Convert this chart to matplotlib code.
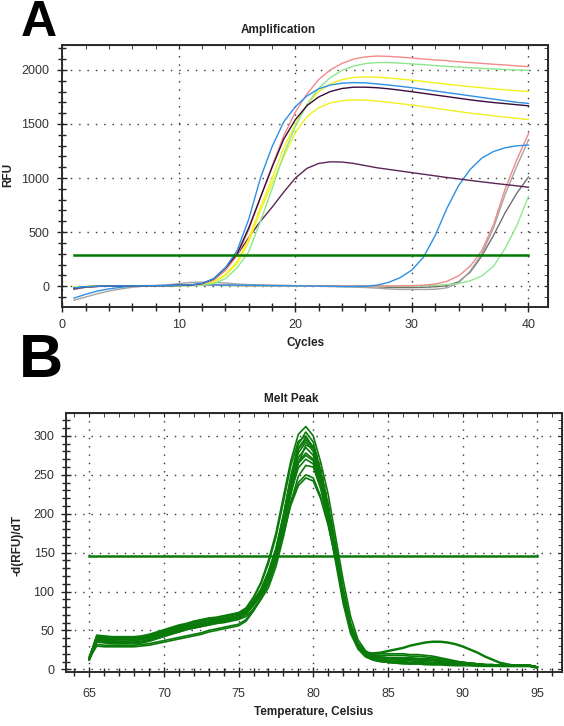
import matplotlib
matplotlib.use("Agg")
import matplotlib.pyplot as plt
from matplotlib.ticker import MultipleLocator

plt.rcParams['font.family'] = ['Liberation Sans', 'DejaVu Sans']

# ---------------- Panel A data (RFU per cycle) ----------------
cycles = list(range(1, 41))
amp_threshold = 285

amp_blue1 = [-15, -5, 0, 2, 3, 3, 4, 5, 5, 8, 12, 25, 70, 170, 330, 620, 1000, 1290, 1520, 1660,
             1760, 1825, 1860, 1877, 1882, 1880, 1870, 1860, 1848, 1835, 1820, 1805, 1790, 1775, 1760,
             1745, 1730, 1715, 1700, 1690]
amp_pink1 = [-20, -8, -2, 0, 2, 3, 3, 4, 5, 7, 10, 20, 60, 150, 285, 520, 820, 1110, 1390, 1610,
             1780, 1910, 2000, 2060, 2100, 2120, 2128, 2125, 2118, 2110, 2100, 2092, 2085, 2075, 2068,
             2060, 2052, 2045, 2037, 2030]
amp_purple1 = [-18, -6, -1, 1, 2, 3, 3, 4, 5, 7, 10, 25, 70, 170, 300, 540, 820, 1100, 1360, 1540,
               1670, 1750, 1800, 1828, 1840, 1840, 1835, 1825, 1812, 1798, 1783, 1768, 1753, 1738, 1723,
               1710, 1698, 1688, 1678, 1668]
amp_yellow1 = [-10, -3, 0, 1, 2, 2, 3, 3, 4, 5, 8, 15, 40, 110, 230, 440, 730, 1000, 1280, 1500,
               1680, 1800, 1870, 1910, 1930, 1935, 1932, 1925, 1915, 1905, 1893, 1880, 1868, 1856, 1845,
               1835, 1825, 1815, 1807, 1800]
amp_yellow2 = [-10, -3, 0, 1, 2, 2, 3, 3, 4, 5, 7, 12, 35, 100, 210, 410, 700, 950, 1200, 1420,
               1570, 1650, 1695, 1715, 1722, 1720, 1712, 1700, 1688, 1675, 1660, 1645, 1630, 1615, 1600,
               1588, 1575, 1563, 1552, 1540]
amp_green1 = [-12, -4, 0, 1, 2, 2, 3, 3, 4, 5, 6, 10, 25, 70, 170, 320, 600, 900, 1220, 1480,
              1680, 1830, 1930, 1995, 2035, 2058, 2068, 2068, 2062, 2055, 2048, 2040, 2033, 2026, 2020,
              2014, 2008, 2003, 1999, 1995]
amp_purple2 = [-20, -8, -2, 0, 2, 3, 3, 4, 5, 7, 10, 20, 60, 150, 290, 450, 600, 730, 870, 1000,
               1090, 1135, 1150, 1148, 1135, 1115, 1095, 1080, 1065, 1050, 1035, 1020, 1005, 992, 978,
               965, 952, 940, 928, 915]
amp_blue2 = [-110, -75, -45, -25, -10, 0, 5, 5, 8, 12, 15, 15, 12, 10, 10, 8, 8, 5, 5, 3,
             3, 0, 0, -3, -3, 0, 10, 35, 80, 150, 270, 470, 720, 930, 1080,
             1185, 1245, 1280, 1298, 1305]
amp_pink2 = [-20, -5, 0, 2, 3, 3, 4, 4, 5, 6, 8, 10, 10, 8, 6, 5, 5, 5, 4, 4,
             3, 3, 2, 2, 2, 2, 2, 3, 4, 5, 10, 20, 45, 95, 185,
             330, 570, 900, 1170, 1410]
amp_gray1 = [-130, -100, -70, -45, -25, -10, 0, 5, 10, 25, 35, 38, 35, 30, 20, 15, 12, 10, 8, 5,
             3, 0, -3, -5, -8, -12, -18, -25, -30, -30, -30, -28, -15, 30, 140,
             300, 540, 850, 1110, 1350]
amp_gray2 = [-30, -10, 0, 2, 3, 4, 5, 6, 8, 10, 15, 15, 12, 10, 8, 6, 5, 5, 5, 5,
             5, 4, 3, 2, 0, -2, -5, -10, -12, -12, -10, -5, 5, 40, 130,
             280, 470, 680, 860, 1010]
amp_green2 = [-20, -6, 0, 1, 2, 2, 3, 3, 4, 5, 6, 8, 8, 6, 5, 4, 3, 3, 2, 2,
              2, 1, 1, 0, 0, 0, 0, 0, 0, 0, 3, 8, 15, 25, 50,
              95, 185, 350, 560, 830]

amp_series = [
    (amp_gray2, '#707070'),
    (amp_gray1, '#A3A3A3'),
    (amp_green2, '#8FE88F'),
    (amp_pink2, '#F08A8A'),
    (amp_blue2, '#2E8FE6'),
    (amp_purple2, '#5A2455'),
    (amp_yellow2, '#F0F020'),
    (amp_yellow1, '#F2F21A'),
    (amp_green1, '#8CE68C'),
    (amp_pink1, '#F28B8B'),
    (amp_purple1, '#3A0A3A'),
    (amp_blue1, '#2E8FE6'),
]

# ---------------- Panel B data (-d(RFU)/dT) ----------------
temps = [65 + 0.5 * i for i in range(61)]
melt_threshold = 146

melt_m1 = [14, 44, 43, 42, 42, 42, 42, 43, 45, 48, 51, 54, 57, 59, 62, 64, 66, 67, 69, 71,
           73, 79, 93, 112, 140, 175, 222, 268, 302, 312, 300, 266, 225, 170, 115, 68, 38, 24, 18, 16,
           15, 15, 15, 15, 14, 14, 13, 12, 11, 10, 9, 8, 7, 6, 6, 5, 5, 5, 5, 5, 3]
melt_m2 = [16, 42, 41, 41, 40, 40, 40, 41, 43, 46, 49, 52, 55, 57, 60, 62, 64, 65, 67, 69,
           71, 76, 88, 103, 125, 155, 198, 249, 289, 305, 292, 255, 206, 152, 96, 53, 30, 20, 16, 15,
           14, 14, 14, 14, 13, 13, 12, 11, 10, 9, 8, 7, 6, 6, 5, 5, 5, 5, 5, 5, 3]
melt_m3 = [13, 41, 40, 39, 39, 39, 39, 40, 42, 45, 48, 51, 54, 56, 58, 60, 62, 64, 65, 67,
           69, 75, 87, 101, 123, 152, 195, 245, 284, 298, 286, 250, 203, 150, 96, 53, 30, 20, 16, 15,
           14, 14, 14, 13, 13, 12, 12, 11, 10, 9, 8, 7, 6, 6, 5, 5, 5, 5, 5, 5, 3]
melt_m4 = [15, 40, 38, 38, 38, 38, 38, 39, 41, 43, 46, 49, 52, 54, 57, 59, 61, 62, 64, 66,
           68, 74, 86, 100, 122, 150, 192, 240, 278, 292, 280, 245, 200, 148, 95, 52, 30, 22, 20, 20,
           20, 20, 20, 19, 19, 18, 17, 15, 13, 11, 9, 8, 7, 6, 6, 5, 5, 5, 5, 5, 3]
melt_m5 = [12, 39, 37, 37, 36, 36, 37, 38, 40, 42, 45, 48, 51, 53, 56, 58, 60, 62, 63, 65,
           67, 73, 85, 99, 120, 148, 189, 236, 272, 285, 275, 241, 197, 146, 94, 52, 29, 19, 15, 13,
           12, 12, 11, 11, 10, 10, 9, 9, 8, 7, 7, 6, 6, 5, 5, 5, 5, 5, 5, 5, 3]
melt_m6 = [14, 38, 36, 36, 35, 35, 35, 36, 38, 41, 44, 47, 50, 53, 55, 57, 59, 61, 62, 64,
           66, 72, 84, 98, 119, 146, 186, 232, 266, 278, 270, 238, 195, 145, 94, 52, 29, 18, 13, 11,
           10, 9, 9, 8, 8, 8, 7, 7, 7, 6, 6, 6, 5, 5, 5, 4, 4, 4, 4, 4, 2]
melt_m7 = [13, 36, 35, 34, 34, 34, 34, 35, 37, 40, 43, 46, 49, 52, 54, 56, 58, 60, 61, 63,
           65, 71, 83, 97, 118, 145, 183, 227, 259, 270, 264, 234, 193, 144, 93, 51, 28, 17, 12, 10,
           9, 8, 8, 7, 7, 7, 6, 6, 6, 5, 5, 5, 5, 4, 4, 4, 4, 4, 4, 4, 2]
melt_m8 = [12, 35, 34, 33, 33, 33, 33, 34, 36, 39, 42, 45, 48, 51, 53, 55, 57, 59, 60, 62,
           64, 68, 78, 90, 105, 132, 170, 215, 248, 262, 260, 232, 190, 138, 85, 46, 26, 16, 12, 10,
           9, 8, 7, 7, 7, 6, 6, 6, 5, 5, 5, 5, 4, 4, 4, 4, 4, 4, 4, 4, 2]
melt_m9 = [15, 43, 42, 41, 41, 41, 41, 42, 44, 47, 50, 53, 56, 58, 61, 63, 65, 66, 68, 70,
           72, 78, 92, 110, 136, 170, 215, 262, 293, 300, 284, 246, 199, 147, 94, 52, 30, 21, 17, 16,
           15, 15, 15, 14, 14, 13, 13, 12, 11, 10, 9, 8, 7, 6, 6, 5, 5, 5, 5, 5, 3]
melt_m10 = [13, 40, 39, 38, 38, 38, 38, 39, 41, 43, 46, 49, 52, 55, 57, 59, 61, 63, 64, 66,
            67, 72, 82, 95, 113, 138, 177, 225, 265, 288, 285, 256, 212, 160, 105, 60, 34, 22, 17, 15,
            14, 13, 13, 12, 12, 11, 11, 10, 9, 8, 8, 7, 6, 6, 5, 5, 5, 5, 5, 5, 3]
melt_m11 = [14, 41, 39, 39, 39, 39, 39, 40, 42, 44, 47, 50, 53, 55, 58, 60, 62, 64, 65, 67,
            69, 75, 88, 103, 126, 155, 198, 246, 283, 295, 285, 252, 207, 154, 99, 56, 32, 22, 19, 18,
            18, 18, 18, 17, 17, 16, 15, 14, 12, 10, 9, 8, 7, 6, 6, 5, 5, 5, 5, 5, 3]
melt_m12 = [12, 37, 35, 35, 34, 34, 35, 36, 38, 40, 43, 46, 48, 51, 53, 55, 57, 59, 61, 63,
            65, 71, 84, 99, 121, 149, 189, 233, 265, 275, 268, 240, 199, 150, 97, 54, 30, 19, 14, 12,
            11, 10, 10, 9, 9, 8, 8, 7, 7, 6, 6, 5, 5, 5, 5, 4, 4, 4, 4, 4, 2]
melt_o1 = [15, 32, 31, 31, 31, 31, 31, 32, 33, 35, 37, 39, 41, 43, 45, 47, 50, 52, 54, 56,
           58, 64, 77, 92, 112, 140, 176, 215, 240, 250, 246, 222, 187, 142, 93, 52, 30, 22, 21, 22,
           24, 26, 28, 31, 33, 35, 36, 36, 35, 33, 30, 26, 22, 17, 13, 9, 7, 5, 5, 5, 3]
melt_o2 = [14, 30, 29, 29, 29, 29, 29, 30, 31, 33, 35, 37, 39, 41, 43, 45, 48, 50, 52, 54,
           56, 62, 75, 90, 110, 138, 173, 211, 236, 246, 242, 219, 185, 141, 92, 51, 29, 21, 20, 21,
           23, 25, 27, 30, 32, 34, 35, 35, 34, 32, 29, 25, 21, 16, 12, 8, 6, 5, 5, 5, 3]
melt_red = [14, 40, 39, 38, 38, 38, 38, 39, 41, 44, 47, 50, 53, 55, 58, 60, 62, 63, 65, 67,
            69, 75, 87, 101, 123, 151, 193, 243, 280, 290, 288, 262, 215, 158, 100, 55, 30, 20, 16, 15,
            14, 14, 14, 13, 13, 12, 12, 11, 10, 9, 8, 7, 6, 6, 5, 5, 5, 5, 5, 5, 3]

melt_series = [melt_o1, melt_o2, melt_m8, melt_m7, melt_m12, melt_m6, melt_m5, melt_m10,
               melt_m4, melt_m11, melt_m3, melt_m9, melt_m2, melt_m1]

# ---------------- Figure ----------------
W, H = 564, 726
fig = plt.figure(figsize=(W / 100, H / 100), dpi=100)


def rect(l, t, r, b):
    return [l / W, 1 - b / H, (r - l) / W, (b - t) / H]


grid_kw = dict(color='#333333', linestyle=(0, (1, 5)), linewidth=1.0)
spine_color = '#2b2b2b'


def style_axes(ax, xmaj, xmin, ymaj, ymin, xpad, ypad):
    ax.xaxis.set_major_locator(MultipleLocator(xmaj))
    ax.xaxis.set_minor_locator(MultipleLocator(xmin))
    ax.yaxis.set_major_locator(MultipleLocator(ymaj))
    ax.yaxis.set_minor_locator(MultipleLocator(ymin))
    ax.tick_params(which='both', direction='inout', color='#222222', width=1.0,
                   labelsize=9, labelcolor='#333333')
    ax.tick_params(which='major', length=7)
    ax.tick_params(which='minor', length=6)
    ax.tick_params(axis='x', pad=xpad)
    ax.tick_params(axis='y', pad=ypad)
    ax.grid(True, which='major', **grid_kw)
    for s in ax.spines.values():
        s.set_color(spine_color)
        s.set_linewidth(1.4)
    top = ax.secondary_xaxis('top')
    top.xaxis.set_major_locator(MultipleLocator(xmaj))
    top.xaxis.set_minor_locator(MultipleLocator(xmin))
    top.tick_params(which='both', direction='in', length=3, color='#222222', labeltop=False)
    right = ax.secondary_yaxis('right')
    right.yaxis.set_major_locator(MultipleLocator(ymaj))
    right.yaxis.set_minor_locator(MultipleLocator(ymin))
    right.tick_params(which='both', direction='in', length=3, color='#222222', labelright=False)


# Panel A
axA = fig.add_axes(rect(62.3, 45, 548.3, 307.3))
for vals, col in amp_series:
    axA.plot(cycles, vals, color=col, linewidth=1.0)
axA.plot([cycles[0], cycles[-1]], [amp_threshold, amp_threshold], color='#007A00', linewidth=1.8)
axA.set_xlim(0, 41.7)
axA.set_ylim(-195, 2230)
style_axes(axA, 10, 2, 500, 100, 4.8, 6)

# Panel B
axB = fig.add_axes(rect(66, 413.3, 562, 671.7))
axB.plot(temps, melt_red, color='#A83A20', linewidth=0.8, linestyle=(0, (3, 4)))
for vals in melt_series:
    axB.plot(temps, vals, color='#0A7A0A', linewidth=1.2)
axB.plot([temps[0], temps[-1]], [melt_threshold, melt_threshold], color='#0A7A0A', linewidth=1.8)
axB.set_xlim(63.44, 96.66)
axB.set_ylim(-3, 329)
style_axes(axB, 5, 1, 50, 10, 8.4, 4.8)

# Titles and labels
fig.text(278 / W, 1 - 30 / H, 'Amplification', ha='center', va='center', fontsize=8.5, fontweight='bold', color='#222222')
fig.text(291 / W, 1 - 399 / H, 'Melt Peak', ha='center', va='center', fontsize=8.5, fontweight='bold', color='#222222')
fig.text(306 / W, 1 - 343 / H, 'Cycles', ha='center', va='center', fontsize=8.5, fontweight='bold', color='#222222')
fig.text(314 / W, 1 - 712 / H, 'Temperature, Celsius', ha='center', va='center', fontsize=8.5, fontweight='bold', color='#222222')
fig.text(8 / W, 1 - 175 / H, 'RFU', ha='center', va='center', rotation=90, fontsize=8.5, fontweight='bold', color='#222222')
fig.text(18 / W, 1 - 545 / H, '-d(RFU)/dT', ha='center', va='center', rotation=90, fontsize=8.5, fontweight='bold', color='#222222')

# Panel letters
fig.text(21 / W, 1 - 36 / H, 'A', ha='left', va='baseline', fontsize=36, fontweight='bold', color='black')
fig.text(19 / W, 1 - 377 / H, 'B', ha='left', va='baseline', fontsize=44, fontweight='bold', color='black')

fig.savefig('out.png', dpi=100)
